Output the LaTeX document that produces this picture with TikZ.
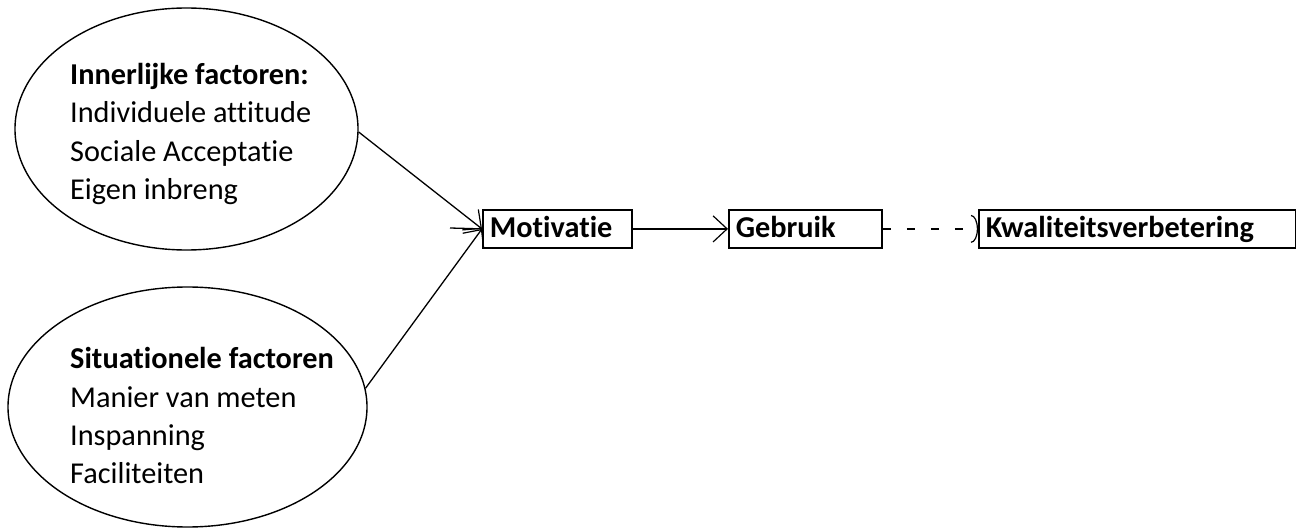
\documentclass[tikz,border=0pt]{standalone}
\usepackage{fontspec}
\setmainfont{Carlito}[Ligatures={NoCommon,NoRequired,NoContextual}]
\usetikzlibrary{shapes.geometric,arrows.meta}
\begin{document}
\begin{tikzpicture}[x=1pt,y=-1pt,
  oval/.style={draw=black,line width=1.4pt,ellipse,inner sep=0pt},
  label/.style={anchor=base west,inner sep=0pt,font=\fontsize{30.3}{36}\selectfont},
  boxnode/.style={draw=black,line width=1.8pt,rectangle,anchor=north west,inner xsep=7pt,inner ysep=6pt,
    text height=22pt,text depth=4pt,minimum height=38pt,align=left,font=\bfseries\fontsize{30.3}{36}\selectfont},
  link/.style={line width=1.3pt,-{Straight Barb[length=14pt,width=26pt,line width=1.2pt]}},
  dlink/.style={line width=1.3pt,dash pattern=on 8pt off 16pt,-{Arc Barb[length=7pt,width=28pt,line width=1.2pt]}}
]
\useasboundingbox (0,0) rectangle (1296,529);
% ellipses
\node[oval,minimum width=343pt,minimum height=242pt] (e1) at (186.5,129) {};
\node[oval,minimum width=359pt,minimum height=240pt] (e2) at (187.5,407) {};
% ellipse texts
\node[label,font=\bfseries\fontsize{30.3}{36}\selectfont] (t11) at (70,85) {Innerlijke factoren:};
\node[label] (t12) at (70,123) {Individuele attitude};
\node[label] (t13) at (70,162) {Sociale Acceptatie};
\node[label] (t14) at (70,200) {Eigen inbreng};
\node[label,font=\bfseries\fontsize{30.3}{36}\selectfont] (t21) at (70,368) {Situationele factoren};
\node[label] (t22) at (70,407) {Manier van meten};
\node[label] (t23) at (70,445) {Inspanning};
\node[label] (t24) at (70,483) {Faciliteiten};
% boxes
\node[boxnode,text width=135pt] (mot) at (482,209) {Motivatie};
\node[boxnode,text width=139pt] (geb) at (728,209) {Gebruik};
\node[boxnode,text width=303pt] (kw) at (978,209) {Kwaliteitsverbetering};
% connectors
\coordinate (stub) at (450,228);
\draw[line width=1.3pt] (stub) -- (mot.west);
\draw[link] (e1.-1.5) -- (mot.west);
\draw[link] (e2.6) -- (mot.west);
\draw[link] (mot.east) -- (geb.west);
\draw[dlink] (geb.east) -- (kw.west);
\end{tikzpicture}
\end{document}
